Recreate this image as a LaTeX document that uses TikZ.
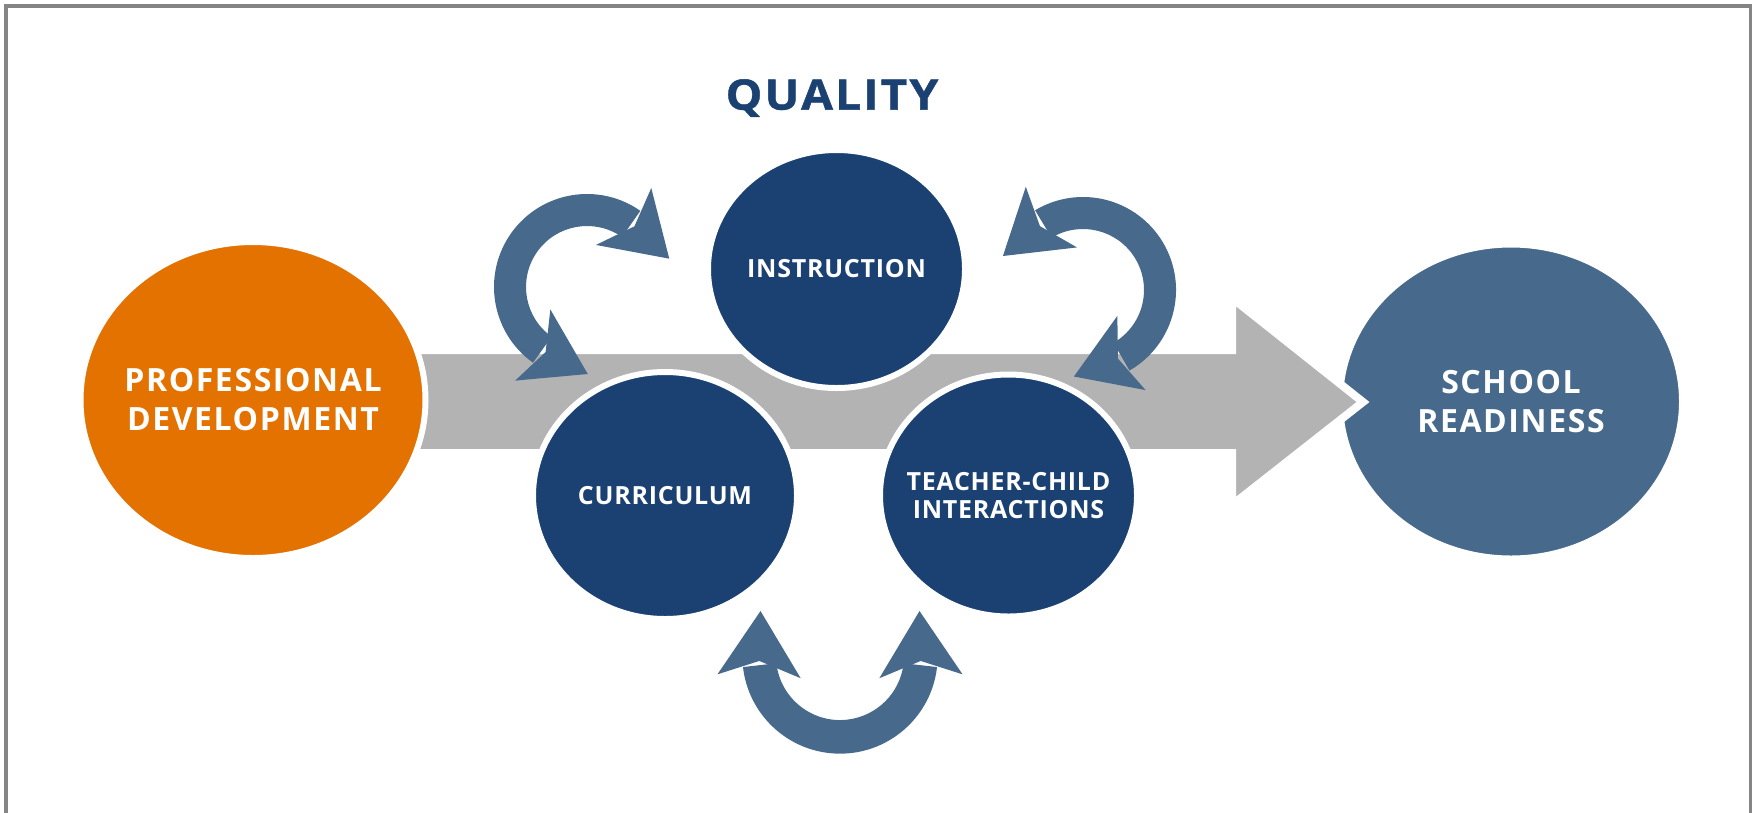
\documentclass[tikz,border=0pt]{standalone}
\usepackage{fontspec}
\setmainfont{Open Sans}
\newfontfamily\headfont{Open Sans}[LetterSpace=5, FakeStretch=1.1, FakeBold=1]
\newfontfamily\bigfont{Open Sans}[LetterSpace=5]
\newfontfamily\smallfont{Open Sans}[LetterSpace=3]
\usetikzlibrary{shapes.geometric}

\definecolor{pdorange}{HTML}{E37200}
\definecolor{navy}{HTML}{1B4173}
\definecolor{steel}{HTML}{476A8C}
\definecolor{shaftgray}{HTML}{B3B3B3}
\definecolor{framegray}{HTML}{858585}

% Double-headed circular arrow around the current origin.
% #1 = angle of the end whose head turns back, #2 = angle of the end whose head runs on.
\newcommand{\loopingarrow}[2]{%
  \fill[loop] ({#1}:93) arc[start angle={#1}, end angle={#2}, radius=93]
     -- ({#2}:61) arc[start angle={#2}, end angle={#1}, radius=61] -- cycle;
  \fill[loop] ({#2-2}:118) -- ({#2+36}:87) -- ({#2-23}:43) -- ({#2+3}:77) -- cycle;
  \fill[loop] ({#1+2}:118) -- ({#1-36}:87) -- ({#1+23}:43) -- ({#1-3}:77) -- cycle;
}

\tikzset{
  bubble/.style={ellipse, draw=white, line width=6pt, inner sep=0pt},
  smalllabel/.style={text=white, align=center,
    font=\smallfont\bfseries\fontsize{25}{28.5}\selectfont},
  biglabel/.style={text=white, align=center,
    font=\bigfont\bfseries\fontsize{32}{39}\selectfont},
  loop/.style={fill=steel},
  shaft/.style={fill=shaftgray, draw=white, line width=8pt, line join=miter},
}

\begin{document}
\begin{tikzpicture}[x=1pt, y=-1pt]
\useasboundingbox (0,0) rectangle (1752,812);
\clip (0,0) rectangle (1752,812);
\fill[white] (0,0) rectangle (1752,812);
\draw[framegray, line width=4pt] (6,6) rectangle (1751,860);

% heading
\node[text=navy, font=\headfont\bfseries\fontsize{42}{50}\selectfont] (quality) at (832,98) {QUALITY};

% outcome bubble, laid first so the arrow tip bites into it
\node[bubble, fill=steel, minimum width=342pt, minimum height=314pt,
  label={[biglabel]center:SCHOOL\\READINESS}] (readiness) at (1511,401.5) {};

% broad grey arrow running from left to right
\filldraw[shaft] (380,350) -- (1232,350) -- (1232,298) -- (1363,402)
  -- (1232,505) -- (1232,453) -- (380,453) -- cycle;

% the three parts of quality
\node[bubble, fill=navy, minimum width=257pt, minimum height=238pt,
  label={[smalllabel]center:INSTRUCTION}] (instruction) at (836.5,269) {};
\node[bubble, fill=navy, minimum width=264pt, minimum height=247pt,
  label={[smalllabel]center:CURRICULUM}] (curriculum) at (665,495.5) {};
\node[bubble, fill=navy, minimum width=257pt, minimum height=242pt,
  label={[smalllabel]center:TEACHER-CHILD\\INTERACTIONS}] (interactions) at (1008.5,495.5) {};

% starting bubble
\node[bubble, fill=pdorange, minimum width=345pt, minimum height=316pt,
  label={[biglabel]center:PROFESSIONAL\\DEVELOPMENT}] (pd) at (253,400) {};

% circular arrows between the parts
\begin{scope}[shift={(587,287)}]
  \loopingarrow{-234.5}{-55}
\end{scope}
\begin{scope}[shift={(1083,290)}, xscale=-1]
  \loopingarrow{-240}{-59}
\end{scope}
\begin{scope}[shift={(840,656)}, scale=1.05]
  \loopingarrow{6.5}{173.5}
\end{scope}
\end{tikzpicture}
\end{document}
